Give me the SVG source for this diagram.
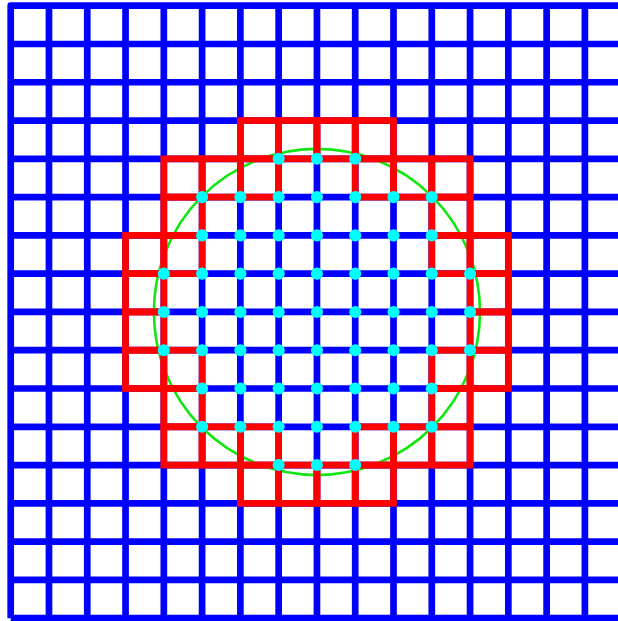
<svg xmlns="http://www.w3.org/2000/svg" width="618" height="621" viewBox="0 0 618 621">
<style>
.blue{fill:none;stroke:#0000ff;stroke-width:0.175}
.red{fill:none;stroke:#ff0000;stroke-width:0.175;stroke-linejoin:miter}
.ring{fill:none;stroke:#11e611;stroke-width:0.068}
.pt{fill:#00ffff}
</style>
<defs>
<rect id="cell" width="1" height="1" class="red"/>
<circle id="dot" r="0.158" class="pt"/>
</defs>
<rect width="618" height="621" fill="#ffffff"/>
<g transform="matrix(38.28 0 0 38.28 10.7 5.7)">
<g id="grid">
<path class="blue" d="M1 0V16.1M2 0V16.1M3 0V16.1M4 0V16.1M5 0V16.1M6 0V16.1M7 0V16.1M8 0V16.1M9 0V16.1M10 0V16.1M11 0V16.1M12 0V16.1M13 0V16.1M14 0V16.1M15 0V16.1"/>
<path class="blue" d="M0 1H16M0 2H16M0 3H16M0 4H16M0 5H16M0 6H16M0 7H16M0 8H16M0 9H16M0 10H16M0 11H16M0 12H16M0 13H16M0 14H16M0 15H16M0 16H16"/>
<path class="blue" d="M0 16V0H16" stroke-linejoin="round"/>
</g>
<g id="circle">
<circle class="ring" cx="8" cy="8" r="4.26"/>
</g>
<g id="cells">
<use href="#cell" x="6" y="3"/><use href="#cell" x="7" y="3"/><use href="#cell" x="8" y="3"/><use href="#cell" x="9" y="3"/>
<use href="#cell" x="4" y="4"/><use href="#cell" x="5" y="4"/><use href="#cell" x="6" y="4"/><use href="#cell" x="9" y="4"/><use href="#cell" x="10" y="4"/><use href="#cell" x="11" y="4"/>
<use href="#cell" x="4" y="5"/><use href="#cell" x="11" y="5"/>
<use href="#cell" x="3" y="6"/><use href="#cell" x="4" y="6"/><use href="#cell" x="11" y="6"/><use href="#cell" x="12" y="6"/>
<use href="#cell" x="3" y="7"/><use href="#cell" x="12" y="7"/>
<use href="#cell" x="3" y="8"/><use href="#cell" x="12" y="8"/>
<use href="#cell" x="3" y="9"/><use href="#cell" x="4" y="9"/><use href="#cell" x="11" y="9"/><use href="#cell" x="12" y="9"/>
<use href="#cell" x="4" y="10"/><use href="#cell" x="11" y="10"/>
<use href="#cell" x="4" y="11"/><use href="#cell" x="5" y="11"/><use href="#cell" x="6" y="11"/><use href="#cell" x="9" y="11"/><use href="#cell" x="10" y="11"/><use href="#cell" x="11" y="11"/>
<use href="#cell" x="6" y="12"/><use href="#cell" x="7" y="12"/><use href="#cell" x="8" y="12"/><use href="#cell" x="9" y="12"/>
</g>
<g id="points">
<use href="#dot" x="7" y="4"/><use href="#dot" x="8" y="4"/><use href="#dot" x="9" y="4"/>
<use href="#dot" x="5" y="5"/><use href="#dot" x="6" y="5"/><use href="#dot" x="7" y="5"/><use href="#dot" x="8" y="5"/><use href="#dot" x="9" y="5"/><use href="#dot" x="10" y="5"/><use href="#dot" x="11" y="5"/>
<use href="#dot" x="5" y="6"/><use href="#dot" x="6" y="6"/><use href="#dot" x="7" y="6"/><use href="#dot" x="8" y="6"/><use href="#dot" x="9" y="6"/><use href="#dot" x="10" y="6"/><use href="#dot" x="11" y="6"/>
<use href="#dot" x="4" y="7"/><use href="#dot" x="5" y="7"/><use href="#dot" x="6" y="7"/><use href="#dot" x="7" y="7"/><use href="#dot" x="8" y="7"/><use href="#dot" x="9" y="7"/><use href="#dot" x="10" y="7"/><use href="#dot" x="11" y="7"/><use href="#dot" x="12" y="7"/>
<use href="#dot" x="4" y="8"/><use href="#dot" x="5" y="8"/><use href="#dot" x="6" y="8"/><use href="#dot" x="7" y="8"/><use href="#dot" x="8" y="8"/><use href="#dot" x="9" y="8"/><use href="#dot" x="10" y="8"/><use href="#dot" x="11" y="8"/><use href="#dot" x="12" y="8"/>
<use href="#dot" x="4" y="9"/><use href="#dot" x="5" y="9"/><use href="#dot" x="6" y="9"/><use href="#dot" x="7" y="9"/><use href="#dot" x="8" y="9"/><use href="#dot" x="9" y="9"/><use href="#dot" x="10" y="9"/><use href="#dot" x="11" y="9"/><use href="#dot" x="12" y="9"/>
<use href="#dot" x="5" y="10"/><use href="#dot" x="6" y="10"/><use href="#dot" x="7" y="10"/><use href="#dot" x="8" y="10"/><use href="#dot" x="9" y="10"/><use href="#dot" x="10" y="10"/><use href="#dot" x="11" y="10"/>
<use href="#dot" x="5" y="11"/><use href="#dot" x="6" y="11"/><use href="#dot" x="7" y="11"/><use href="#dot" x="8" y="11"/><use href="#dot" x="9" y="11"/><use href="#dot" x="10" y="11"/><use href="#dot" x="11" y="11"/>
<use href="#dot" x="7" y="12"/><use href="#dot" x="8" y="12"/><use href="#dot" x="9" y="12"/>
</g>
</g>
</svg>
